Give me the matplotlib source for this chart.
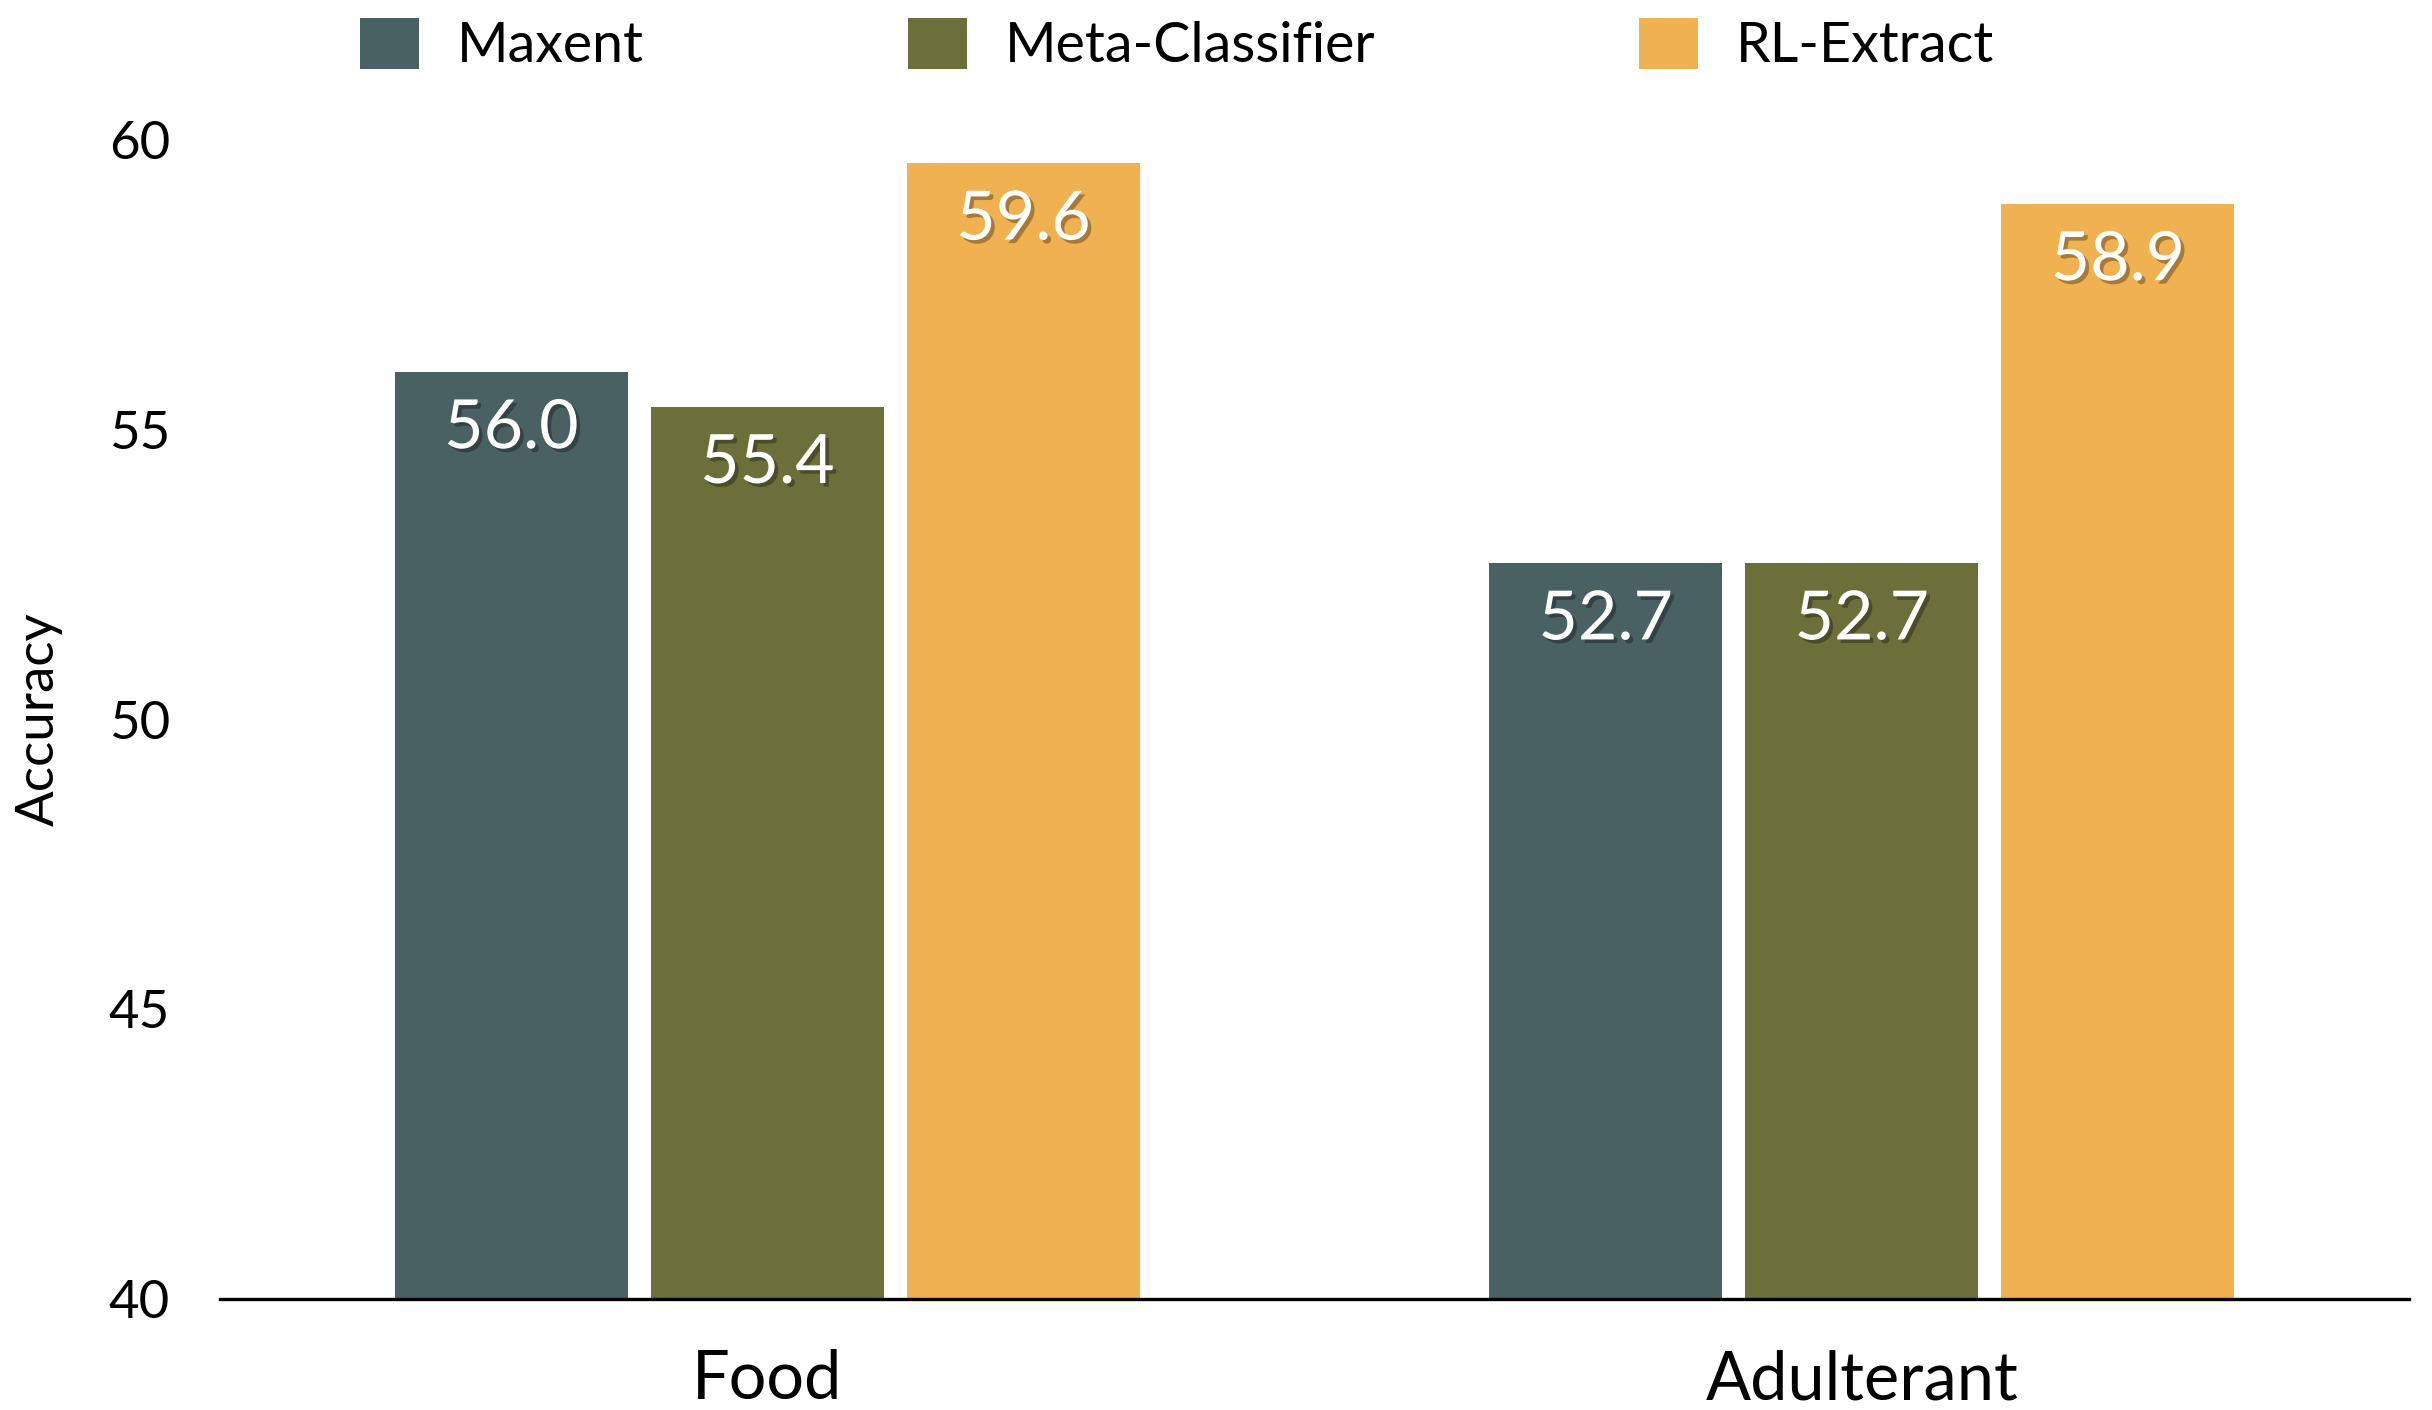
import numpy as np
import matplotlib.pyplot as plt
import matplotlib.patheffects as pe

plt.rcParams['font.family'] = ['Lato', 'DejaVu Sans']

categories = ['Food', 'Adulterant']
methods = ['Maxent', 'Meta-Classifier', 'RL-Extract']
maxent = [56.0, 52.7]
meta_classifier = [55.4, 52.7]
rl_extract = [59.6, 58.9]
colors = ['#4A6163', '#6C6F3A', '#F0B150']

fig = plt.figure(figsize=(12.16, 7.05), dpi=200)
ax = fig.add_axes([0.0905, 0.0787, 0.9, 0.822])

x = np.arange(len(categories))
step = 0.234
width = 0.213

# soft drop shadow behind the white value labels
shadow = [pe.SimplePatchShadow(offset=(1.3, -1.3), shadow_rgbFace='black', alpha=0.3),
          pe.Normal()]

for i, (vals, name) in enumerate(zip([maxent, meta_classifier, rl_extract], methods)):
    pos = x + (i - 1) * step
    bars = ax.bar(pos, np.array(vals) - 40, width, bottom=40, color=colors[i], label=name)
    for b, v in zip(bars, vals):
        ax.annotate(f'{v:.1f}', (b.get_x() + b.get_width() / 2, v),
                    xytext=(0, -27.5), textcoords='offset points',
                    ha='center', va='baseline', fontsize=24.5, color='white',
                    path_effects=shadow)

ax.set_xlim(-0.5, 1.5)
ax.set_ylim(40, 60)
ax.set_yticks([40, 45, 50, 55, 60])
ax.set_xticks(x)
ax.set_xticklabels(categories, fontsize=24)
ax.tick_params(axis='y', length=0, pad=18, labelsize=19)
ax.tick_params(axis='x', length=0, pad=18)
ax.set_ylabel('Accuracy', fontsize=19)
ax.yaxis.set_label_coords(-0.072, 0.5)

for side in ['top', 'right', 'left']:
    ax.spines[side].set_visible(False)
ax.spines['bottom'].set_linewidth(1.2)
ax.spines['bottom'].set_color('black')

fig.legend(loc='center', bbox_to_anchor=(0.484, 1 - 45 / 1410), ncol=3,
           frameon=False, fontsize=20, handlelength=1.06, handleheight=1.06,
           handletextpad=0.68, columnspacing=4.75)

fig.savefig('out.png', dpi=200)
